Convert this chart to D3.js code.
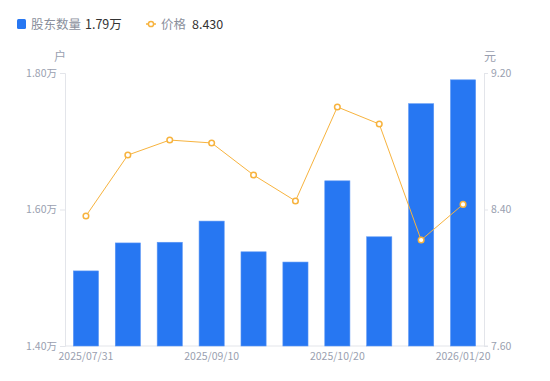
<!DOCTYPE html>
<html>
<head>
<meta charset="utf-8">
<script src="https://cdn.jsdelivr.net/npm/d3@7"></script>
<style>
  body { margin: 0; background: #fff; }
  text { font-family: "Noto Sans CJK SC", "Noto Sans", sans-serif; }
</style>
</head>
<body>
<div id="chart"></div>
<script>
// data
const dates = ["2025/07/31", "2025/08/20", "2025/08/31", "2025/09/10", "2025/09/20",
  "2025/09/30", "2025/10/20", "2025/10/31", "2025/12/31", "2026/01/20"];
const holders = [1.510, 1.551, 1.552, 1.583, 1.538, 1.523, 1.642, 1.560, 1.755, 1.790];
const prices = [8.362, 8.719, 8.807, 8.790, 8.602, 8.450, 9.001, 8.901, 8.221, 8.430];
const leftTicks = [1.40, 1.60, 1.80];
const rightTicks = [7.60, 8.40, 9.20];
const shownDates = ["2025/07/31", "2025/09/10", "2025/10/20", "2026/01/20"];

const width = 550, height = 381;
const mLeft = 65, mRight = 484, mTop = 73, mBottom = 346;
const blue = "#2777f2", orange = "#f7b33e", gray = "#9a9fb0";
const numFont = "Roboto, 'Noto Sans CJK SC', sans-serif";

const svg = d3.select("#chart").append("svg")
  .attr("width", width)
  .attr("height", height);

const x = d3.scaleBand().domain(dates).range([mLeft, mRight]).paddingInner(0.4).paddingOuter(0.2);
const yL = d3.scaleLinear().domain([1.40, 1.80]).range([mBottom, mTop]);
const yR = d3.scaleLinear().domain([7.60, 9.20]).range([mBottom, mTop]);

// legend
const lg = svg.append("g").attr("font-size", 12.5);
lg.append("rect").attr("x", 17).attr("y", 19).attr("width", 9).attr("height", 10).attr("rx", 1.5).attr("fill", blue);
lg.append("text").attr("x", 31).attr("y", 28.5).attr("fill", "#8a8f9c").text("股东数量");
lg.append("text").attr("x", 85).attr("y", 28.5).attr("fill", "#333").attr("font-family", numFont)
  .text(d3.format(".2f")(holders[holders.length - 1]) + "万");
lg.append("line").attr("x1", 146).attr("x2", 156).attr("y1", 24).attr("y2", 24).attr("stroke", orange).attr("stroke-width", 1.5);
lg.append("circle").attr("cx", 151).attr("cy", 24).attr("r", 2.6).attr("fill", "#fff").attr("stroke", orange).attr("stroke-width", 1.5);
lg.append("text").attr("x", 161).attr("y", 28.5).attr("fill", "#8a8f9c").text("价格");
lg.append("text").attr("x", 192).attr("y", 28.5).attr("fill", "#333").attr("font-family", numFont)
  .text(d3.format(".3f")(prices[prices.length - 1]));

// unit labels
svg.append("text").attr("x", 60).attr("y", 61).attr("text-anchor", "middle").attr("font-size", 12).attr("fill", gray).text("户");
svg.append("text").attr("x", 490).attr("y", 61).attr("text-anchor", "middle").attr("font-size", 12).attr("fill", gray).text("元");

// axes
const axL = svg.append("g").attr("transform", `translate(${mLeft},0)`)
  .call(d3.axisLeft(yL).tickValues(leftTicks).tickSize(5).tickPadding(3).tickFormat(d => d3.format(".2f")(d) + "万"));
const axR = svg.append("g").attr("transform", `translate(${mRight},0)`)
  .call(d3.axisRight(yR).tickValues(rightTicks).tickSize(4).tickPadding(3).tickFormat(d3.format(".2f")));
const axB = svg.append("g").attr("transform", `translate(0,${mBottom})`)
  .call(d3.axisBottom(x).tickValues(shownDates).tickSize(0).tickPadding(7));

[axL, axR, axB].forEach(a => {
  a.select(".domain").attr("stroke", "#e3e5ea");
  a.selectAll(".tick line").attr("stroke", "#e3e5ea");
  a.selectAll("text").attr("fill", gray).attr("font-size", 10.5).attr("font-family", numFont);
});
axB.select(".domain").attr("d", `M${mLeft},0H${mRight + 4}`);

// bars
svg.selectAll("rect.bar")
  .data(holders)
  .enter()
  .append("rect")
  .attr("class", "bar")
  .attr("x", (d, i) => x(dates[i]))
  .attr("y", d => yL(d))
  .attr("width", x.bandwidth())
  .attr("height", d => yL(1.40) - yL(d))
  .attr("fill", blue)
  .attr("stroke", "#5b96f5")
  .attr("stroke-width", 0.6);

// price line
const line = d3.line()
  .x((d, i) => x(dates[i]) + x.bandwidth() / 2)
  .y(d => yR(d));

svg.append("path")
  .datum(prices)
  .attr("d", line)
  .attr("fill", "none")
  .attr("stroke", orange)
  .attr("stroke-width", 1);

svg.selectAll("circle.pt")
  .data(prices)
  .enter()
  .append("circle")
  .attr("class", "pt")
  .attr("cx", (d, i) => x(dates[i]) + x.bandwidth() / 2)
  .attr("cy", d => yR(d))
  .attr("r", 2.8)
  .attr("fill", "#fff")
  .attr("stroke", orange)
  .attr("stroke-width", 1.5);
</script>
</body>
</html>
